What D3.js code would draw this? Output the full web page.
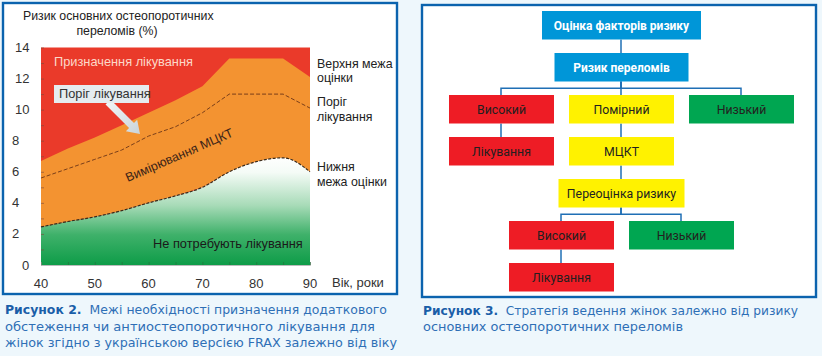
<!DOCTYPE html>
<html><head><meta charset="utf-8">
<script src="https://cdn.jsdelivr.net/npm/d3@7"></script>
<style>body{margin:0;background:#eef7fc;} svg{display:block} text{white-space:pre}</style>
</head><body><svg id="c" width="822" height="356"></svg>
<script>
// ---- Figure 2 data ----
const ages = [40,45,50,55,60,65,70,75,80,85,90];
const upperBound = [6.7,7.5,8.2,9.0,9.8,10.6,11.5,13.3,13.3,13.3,12.1];
const threshold  = [5.6,6.2,6.8,7.4,8.3,8.9,9.8,11.0,11.0,11.0,10.1];
const lowerBound = [2.45,2.8,3.1,3.5,4.0,4.45,5.0,6.0,6.65,6.9,6.0];
const yTicks = [0,2,4,6,8,10,12,14];
const yMinorTicks = d3.range(0,15,1);
const xTicks = [40,50,60,70,80,90];
const xMinorTicks = d3.range(40,91,5);
const yTitle = ["Ризик основних остеопоротичних","переломів (%)"];
const xTitle = "Вік, роки";
const rightLabels = [["Верхня межа","оцінки"],["Поріг","лікування"],["Нижня","межа оцінки"]];
const caption2 = [["Рисунок 2.","\u00a0\u00a0Межі необхідності призначення додаткового"],["","обстеження чи антиостеопоротичного лікування для"],["","жінок згідно з українською версією FRAX залежно від віку"]];
// ---- Figure 3 data ----
const flowNodes = [
  {id:"f", label:"Оцінка факторів ризику", col:1, row:0, w:159, kind:"blue"},
  {id:"r", label:"Ризик переломів", col:1, row:1, w:134, kind:"blue"},
  {id:"h1", label:"Високий", col:0, row:2, w:105, kind:"red"},
  {id:"m", label:"Помірний", col:1, row:2, w:105, kind:"yellow"},
  {id:"l1", label:"Низький", col:2, row:2, w:105, kind:"green"},
  {id:"t1", label:"Лікування", col:0, row:3, w:105, kind:"red"},
  {id:"b", label:"МЦКТ", col:1, row:3, w:105, kind:"yellow"},
  {id:"p", label:"Переоцінка ризику", col:1, row:4, w:126, kind:"yellow"},
  {id:"h2", label:"Високий", col:0.5, row:5, w:105, kind:"red"},
  {id:"l2", label:"Низький", col:1.5, row:5, w:105, kind:"green"},
  {id:"t2", label:"Лікування", col:0.5, row:6, w:105, kind:"red"}
];
const flowEdges = [["f",["r"]],["r",["h1","m","l1"]],["h1",["t1"]],["m",["b"]],["b",["p"]],["p",["h2","l2"]],["h2",["t2"]]];
const caption3 = [["Рисунок 3.","\u00a0\u00a0Стратегія ведення жінок залежно від ризику"],["","основних остеопоротичних переломів"]];

const svg = d3.select("#c");
const W=822,H=356;
const defs = svg.append("defs");
svg.append("rect").attr("width",W).attr("height",H).attr("fill","#eef7fc");
const border="#0b63ae";
svg.append("rect").attr("x",3).attr("y",3).attr("width",394).attr("height",291).attr("fill","#fff").attr("stroke",border).attr("stroke-width",2.4);
svg.append("rect").attr("x",422).attr("y",5).attr("width",394).attr("height",292).attr("fill","#fff").attr("stroke",border).attr("stroke-width",2.4);

// ---- chart ----
const x = d3.scaleLinear().domain([40,90]).range([41,310]);
const y = d3.scaleLinear().domain([0,14]).range([265,47.5]);
const g = svg.append("g");
const data = ages.map((a,i)=>({a,u:upperBound[i],t:threshold[i],l:lowerBound[i]}));

const grad = defs.append("linearGradient").attr("id","gg").attr("gradientUnits","userSpaceOnUse")
  .attr("x1",0).attr("x2",0).attr("y1",y(7)).attr("y2",y(0));
[[0,"#ffffff"],[0.15,"#f4fbf6"],[0.45,"#a8dbb8"],[0.72,"#3fb16a"],[1,"#0e9c48"]].forEach(([o,c])=>grad.append("stop").attr("offset",o).attr("stop-color",c));

g.append("rect").attr("x",x(40)).attr("y",y(14)).attr("width",x(90)-x(40)).attr("height",y(0)-y(14)).attr("fill","#ea3a2a");
g.append("path").datum(data).attr("fill","#f39331")
  .attr("d",d3.area().x(d=>x(d.a)).y0(d=>y(d.l)).y1(d=>y(d.u)).curve(d3.curveLinear));
g.append("path").datum(data).attr("fill","url(#gg)")
  .attr("d",d3.area().x(d=>x(d.a)).y0(y(0)).y1(d=>y(d.l)).curve(d3.curveMonotoneX));
g.append("path").datum(data).attr("fill","none").attr("stroke","#7a3f1a").attr("stroke-width",1).attr("stroke-dasharray","4,2")
  .attr("d",d3.line().x(d=>x(d.a)).y(d=>y(d.t)).curve(d3.curveLinear));
g.append("path").datum(data).attr("fill","none").attr("stroke","#3a2a1a").attr("stroke-width",1.2).attr("stroke-dasharray","3,1.5")
  .attr("d",d3.line().x(d=>x(d.a)).y(d=>y(d.l)).curve(d3.curveMonotoneX));

const ya = g.append("g").attr("transform",`translate(${x(40)},0)`)
  .call(d3.axisLeft(y).tickValues(yMinorTicks).tickSize(-3).tickFormat(""));
ya.select(".domain").remove();
ya.selectAll("line").attr("stroke","#7a4a3a").attr("stroke-opacity",0.6);
const xa = g.append("g").attr("transform",`translate(0,${y(0)})`)
  .call(d3.axisBottom(x).tickValues(xMinorTicks).tickSize(-3).tickFormat(""));
xa.select(".domain").attr("stroke","#bbb");
xa.selectAll("line").attr("stroke","#2a6a3a").attr("stroke-opacity",0.6);

const font="'Liberation Sans', Arial, sans-serif";
g.selectAll(".yl").data(yTicks).enter().append("text")
  .attr("x",d=>d===0?22:(d>=10?15:12)).attr("y",d=>y(d)+4.5)
  .attr("font-family",font).attr("font-size",13).attr("fill","#333").text(d=>d);
g.selectAll(".xl").data(xTicks).enter().append("text")
  .attr("x",d=>x(d)).attr("y",288).attr("text-anchor","middle")
  .attr("font-family",font).attr("font-size",13).attr("fill","#333").text(d=>d);
g.append("text").attr("x",332).attr("y",287).attr("font-family",font).attr("font-size",13).attr("fill","#333").text(xTitle);
g.append("text").attr("x",23).attr("y",20).attr("font-family",font).attr("font-size",12.3).attr("fill","#222").text(yTitle[0]);
g.append("text").attr("x",117).attr("y",35).attr("text-anchor","middle").attr("font-family",font).attr("font-size",12.3).attr("fill","#222").text(yTitle[1]);

const rlY=[[68,82],[106,121],[171,186]];
rightLabels.forEach((ls,i)=>ls.forEach((t,j)=>g.append("text").attr("x",317).attr("y",rlY[i][j])
  .attr("font-family",font).attr("font-size",12.4).attr("fill","#222").text(t)));

g.append("text").attr("x",54).attr("y",66).attr("font-family",font).attr("font-size",12.8).attr("fill","#fcd8c8").text("Призначення лікування");
g.append("text").attr("x",153).attr("y",248).attr("font-family",font).attr("font-size",12.8).attr("fill","#1a1a1a").text("Не потребують лікування");
g.append("text").attr("transform","translate(181,159) rotate(-23.5)").attr("text-anchor","middle")
  .attr("font-family",font).attr("font-size",12.6).attr("fill","#3b2418").text("Вимірювання МЦКТ");
const S=[108,102],T=[140,134];
const dx=T[0]-S[0],dy=T[1]-S[1],L=Math.hypot(dx,dy),ux=dx/L,uy=dy/L,px=-uy,py=ux;
const hl=12,sw=3.5,hw=8;
const B=[T[0]-ux*hl,T[1]-uy*hl];
const pts=[[S[0]+px*sw,S[1]+py*sw],[B[0]+px*sw,B[1]+py*sw],[B[0]+px*hw,B[1]+py*hw],T,[B[0]-px*hw,B[1]-py*hw],[B[0]-px*sw,B[1]-py*sw],[S[0]-px*sw,S[1]-py*sw]];
const ag = defs.append("linearGradient").attr("id","ag").attr("x1",0).attr("y1",0).attr("x2",1).attr("y2",1);
ag.append("stop").attr("offset",0).attr("stop-color","#f4f7f8");
ag.append("stop").attr("offset",1).attr("stop-color","#c9d4da");
g.append("polygon").attr("points",pts.map(p=>p.join(",")).join(" ")).attr("fill","url(#ag)");
g.append("rect").attr("x",54).attr("y",85).attr("width",95).attr("height",18).attr("fill","#e5ecef");
g.append("text").attr("x",59).attr("y",98).attr("font-family",font).attr("font-size",12.8).attr("fill","#333").text("Поріг лікування");

// ---- captions ----
const cfont="'DejaVu Sans', 'Noto Sans', sans-serif";
function caption(lines,x0,ys,widths){
  lines.forEach((ln,i)=>{
    const t=svg.append("text").attr("x",x0).attr("y",ys[i]).attr("font-family",cfont).attr("font-size",12.5)
      .attr("textLength",widths[i]).attr("lengthAdjust","spacingAndGlyphs");
    if(ln[0]) t.append("tspan").attr("font-weight","bold").attr("fill","#1a5ea8").text(ln[0]);
    t.append("tspan").attr("fill","#2e6fb6").text(ln[1]);
  });
}
caption(caption2,5,[314,330.5,347],[382,370,392]);
caption(caption3,423,[315,331],[375,260]);

// ---- flowchart ----
const colX = d3.scaleLinear().domain([0,2]).range([501.5,741.5]);
const rowY = d3.scaleLinear().domain([0,6]).range([11,263]);
const bh=28.5;
const fill={blue:"#0096d8",red:"#ee1c25",yellow:"#fff200",green:"#00a651"};
const byId={}; flowNodes.forEach(n=>byId[n.id]=n);
const fg=svg.append("g");
flowEdges.forEach(([p,cs])=>{
  const P=byId[p]; const pb=rowY(P.row)+bh;
  cs.forEach(c=>{
    const C=byId[c]; const ct=rowY(C.row); const mid=(pb+ct)/2;
    const px0=colX(P.col)-0.5;
    const cx0=colX(C.col)-0.5;
    const d = cs.length===1 ? `M${cx0},${pb}V${ct}` : `M${px0},${pb}V${mid}H${cx0}V${ct}`;
    fg.append("path").attr("d",d).attr("fill","none").attr("stroke","#1f6fb5").attr("stroke-width",1.5);
  });
});
const ng=fg.selectAll(".n").data(flowNodes).enter().append("g");
ng.append("rect").attr("x",d=>colX(d.col)-d.w/2).attr("y",d=>rowY(d.row)).attr("width",d=>d.w).attr("height",bh).attr("fill",d=>fill[d.kind]);
ng.append("text").attr("x",d=>colX(d.col)).attr("y",d=>rowY(d.row)+bh/2+4.3).attr("text-anchor","middle")
  .attr("font-family","Roboto, 'Liberation Sans', sans-serif").attr("font-size",d=>d.kind==="blue"?12:12.3)
  .attr("font-weight",d=>d.kind==="blue"?"bold":"normal").attr("fill",d=>d.kind==="blue"?"#fff":"#231f20").text(d=>d.label);
</script></body></html>
